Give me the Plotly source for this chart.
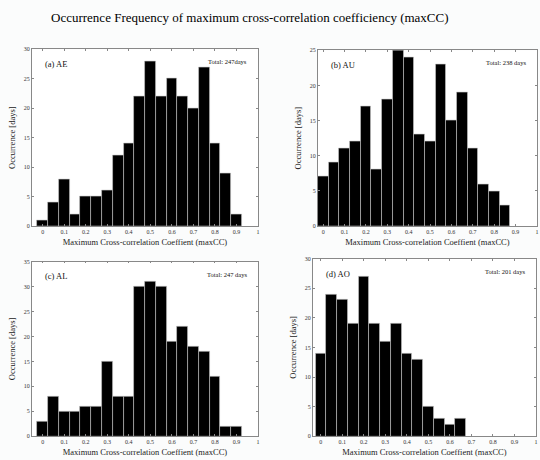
import plotly.graph_objects as go

centers = [round(0.05 * i, 2) for i in range(20)]
tick_vals = [round(0.1 * i, 1) for i in range(11)]
tick_text = ["0", "0.1", "0.2", "0.3", "0.4", "0.5", "0.6", "0.7", "0.8", "0.9", "1"]

ae_counts = [1, 4, 8, 2, 5, 5, 6, 12, 14, 22, 28, 22, 25, 22, 20, 27, 14, 9, 2]
au_counts = [7, 9, 11, 12, 17, 8, 18, 25, 24, 13, 12, 23, 15, 19, 11, 6, 5, 3]
al_counts = [3, 8, 5, 5, 6, 6, 15, 8, 8, 30, 31, 30, 19, 22, 18, 17, 12, 2, 2]
ao_counts = [14, 24, 23, 19, 27, 19, 16, 19, 14, 13, 5, 3, 2, 3]

labels = ["(a) AE", "(b) AU", "(c) AL", "(d) AO"]
totals = ["Total: 247days", "Total: 238 days", "Total: 247 days", "Total: 201 days"]
series = [ae_counts, au_counts, al_counts, ao_counts]
ymax = [30, 25, 35, 30]
xmin = [-0.05, -0.025, -0.05, -0.037]

xdom = [(32/540, 259/540), (319/540, 539/540), (32/540, 259/540), (314/540, 538/540)]
ydom = [(1-226/460, 1-47/460), (1-226/460, 1-48/460), (1-439/460, 1-262/460), (1-439/460, 1-259/460)]

FONT = "Liberation Serif"
fig = go.Figure()
layout = {}
annotations = []
for i in range(4):
    n = i + 1
    xa = "x" if n == 1 else f"x{n}"
    ya = "y" if n == 1 else f"y{n}"
    vals = series[i]
    fig.add_trace(go.Bar(
        x=centers[:len(vals)], y=vals, width=0.05,
        marker=dict(color="black", line=dict(color="#c8c8c8", width=0.6)),
        xaxis=xa, yaxis=ya, showlegend=False,
    ))
    xkey = "xaxis" if n == 1 else f"xaxis{n}"
    ykey = "yaxis" if n == 1 else f"yaxis{n}"
    layout[xkey] = dict(
        domain=list(xdom[i]), anchor=ya, range=[xmin[i], 1.0],
        tickvals=tick_vals, ticktext=tick_text, ticks="inside", ticklen=2,
        tickcolor="#888", showline=True, linecolor="#888", linewidth=0.8,
        mirror="ticks", showgrid=False, zeroline=False,
        tickfont=dict(family=FONT, size=6, color="#333"),
        title=dict(text="Maximum Cross-correlation Coeffient (maxCC)",
                   font=dict(family=FONT, size=8.5, color="#222"), standoff=4),
    )
    layout[ykey] = dict(
        domain=list(ydom[i]), anchor=xa, range=[0, ymax[i]],
        dtick=5, ticks="inside", ticklen=2, tickcolor="#888",
        showline=True, linecolor="#888", linewidth=0.8, mirror="ticks",
        showgrid=False, zeroline=False,
        tickfont=dict(family=FONT, size=6, color="#333"),
        title=dict(text="Occurrence [days]",
                   font=dict(family=FONT, size=8.5, color="#222"), standoff=6),
    )
    annotations.append(dict(
        text=labels[i], xref=f"{xa} domain", yref=f"{ya} domain",
        x=0.05, y=0.955, xanchor="left", yanchor="top", showarrow=False,
        font=dict(family=FONT, size=8.5, color="#111"),
    ))
    annotations.append(dict(
        text=totals[i], xref=f"{xa} domain", yref=f"{ya} domain",
        x=0.96, y=0.96, xanchor="right", yanchor="top", showarrow=False,
        font=dict(family=FONT, size=6.5, color="#111"),
    ))

annotations.append(dict(
    text="Occurrence Frequency of maximum cross-correlation coefficiency (maxCC)",
    xref="paper", yref="paper", x=251/540, y=1-15/460, xanchor="center",
    yanchor="middle", showarrow=False,
    font=dict(family=FONT, size=13, color="#000"),
))

fig.update_layout(
    **layout,
    annotations=annotations,
    width=540, height=460,
    margin=dict(l=0, r=0, t=0, b=0),
    paper_bgcolor="#fbfcfc", plot_bgcolor="white",
    bargap=0,
)
fig.write_html("out.html")
